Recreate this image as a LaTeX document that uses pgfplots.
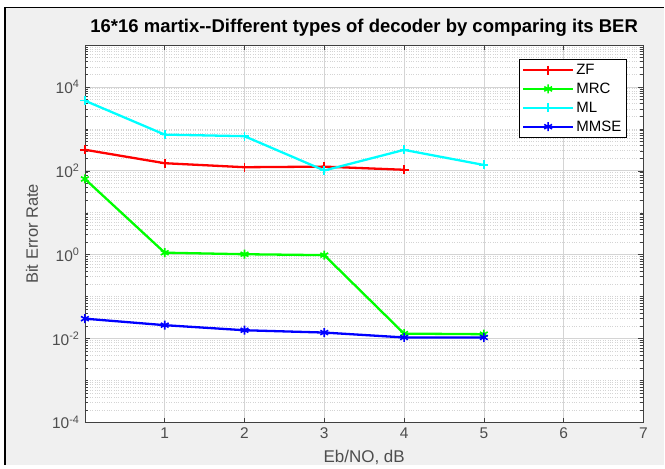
\documentclass[border=0pt]{standalone}
\usepackage{fontspec}
\setmainfont{Liberation Sans}
\usepackage{pgfplots}
\pgfplotsset{compat=1.18}
\definecolor{figbg}{HTML}{F0F0F0}
\definecolor{gridc}{HTML}{D4D4D4}
\definecolor{tickc}{HTML}{4D4D4D}
\definecolor{axc}{HTML}{404040}
\definecolor{pred}{rgb}{1,0,0}
\definecolor{pgreen}{rgb}{0,1,0}
\definecolor{pcyan}{rgb}{0,1,1}
\definecolor{pblue}{rgb}{0,0,1}
\def\mylist{}
\foreach \e in {-4,...,4}{\foreach \k in {2,...,9}{\xdef\mylist{\mylist\k e\e,}}}
\xdef\mylist{\mylist 1e-3,1e-1,1e1,1e3}
\begin{document}
\begin{tikzpicture}[x=1pt,y=1pt]
\fill[white] (0,0) rectangle (665,465);
\fill[figbg] (5,0) rectangle (665,457);
\draw[black,line width=1.2pt] (5,0) -- (5,457.5) -- (665,457.5);
\begin{axis}[
  at={(85pt,42pt)}, anchor=south west, scale only axis,
  width=559pt, height=378pt,
  ymode=log, xmin=0, xmax=7, ymin=1e-4, ymax=1e5,
  /pgf/number format/assume math mode=true,
  xtick={1,...,7}, xticklabels={1,2,3,4,5,6,7},
  ytick={1e-4,1e-2,1,1e2,1e4},
  yticklabels={10\textsuperscript{-4},10\textsuperscript{-2},10\textsuperscript{0},10\textsuperscript{2},10\textsuperscript{4}},
  minor ytick/.expanded={\mylist},
  grid=both,
  major grid style={gridc, line width=0.7pt},
  minor grid style={gridc, dotted, line width=0.7pt},
  tick align=inside, major tick length=5pt, minor tick length=3pt,
  tick style={axc, line width=0.6pt},
  axis line style={axc, line width=0.8pt},
  axis background/.style={fill=white},
  ticklabel style={font=\fontsize{15.5}{15.5}\selectfont, text=tickc},
  xticklabel style={yshift=-2pt},
  yticklabel style={xshift=-2pt},
  title={16*16 martix{-}{-}Different types of decoder by comparing its BER},
  every axis title/.style={at={(axis description cs:0.5,1.045)}, anchor=center, font=\fontsize{18.5}{18.5}\selectfont\bfseries},
  xlabel={Eb/NO, dB},
  every axis x label/.style={at={(axis description cs:0.5,-0.0926)}, anchor=center, font=\fontsize{17}{17}\selectfont, text=tickc},
  ylabel={Bit Error Rate},
  every axis y label/.style={at={(axis description cs:-0.0948,0.5)}, rotate=90, anchor=center, font=\fontsize{16.5}{16.5}\selectfont, text=tickc},
  legend style={at={(1,1)}, anchor=north east, xshift=-17pt, yshift=-14pt,
    font=\fontsize{15}{15}\selectfont, draw=black, fill=white, row sep=3pt,
    inner xsep=3pt, inner ysep=3pt},
  legend cell align=left,
  legend image code/.code={\draw[#1, mark repeat=2, mark phase=2] plot coordinates {(0pt,0pt) (25pt,0pt) (50pt,0pt)};},
  every axis plot/.append style={line width=2.3pt, mark size=4.5pt, mark options={solid, line width=1.6pt}},
]
\addplot[pred, mark=+] coordinates {(0,318) (1,152) (2,122) (3,126) (4,106)};
\addlegendentry{ZF}
\addplot[pgreen, mark=asterisk] coordinates {(0,64) (1,1.12) (2,1.03) (3,0.98) (4,0.0132) (5,0.0128)};
\addlegendentry{MRC}
\addplot[pcyan, mark=+] coordinates {(0,4700) (1,730) (2,670) (3,102) (4,316) (5,138)};
\addlegendentry{ML}
\addplot[pblue, mark=asterisk] coordinates {(0,0.030) (1,0.021) (2,0.0159) (3,0.014) (4,0.0107) (5,0.0107)};
\addlegendentry{MMSE}
\end{axis}
\end{tikzpicture}
\end{document}
